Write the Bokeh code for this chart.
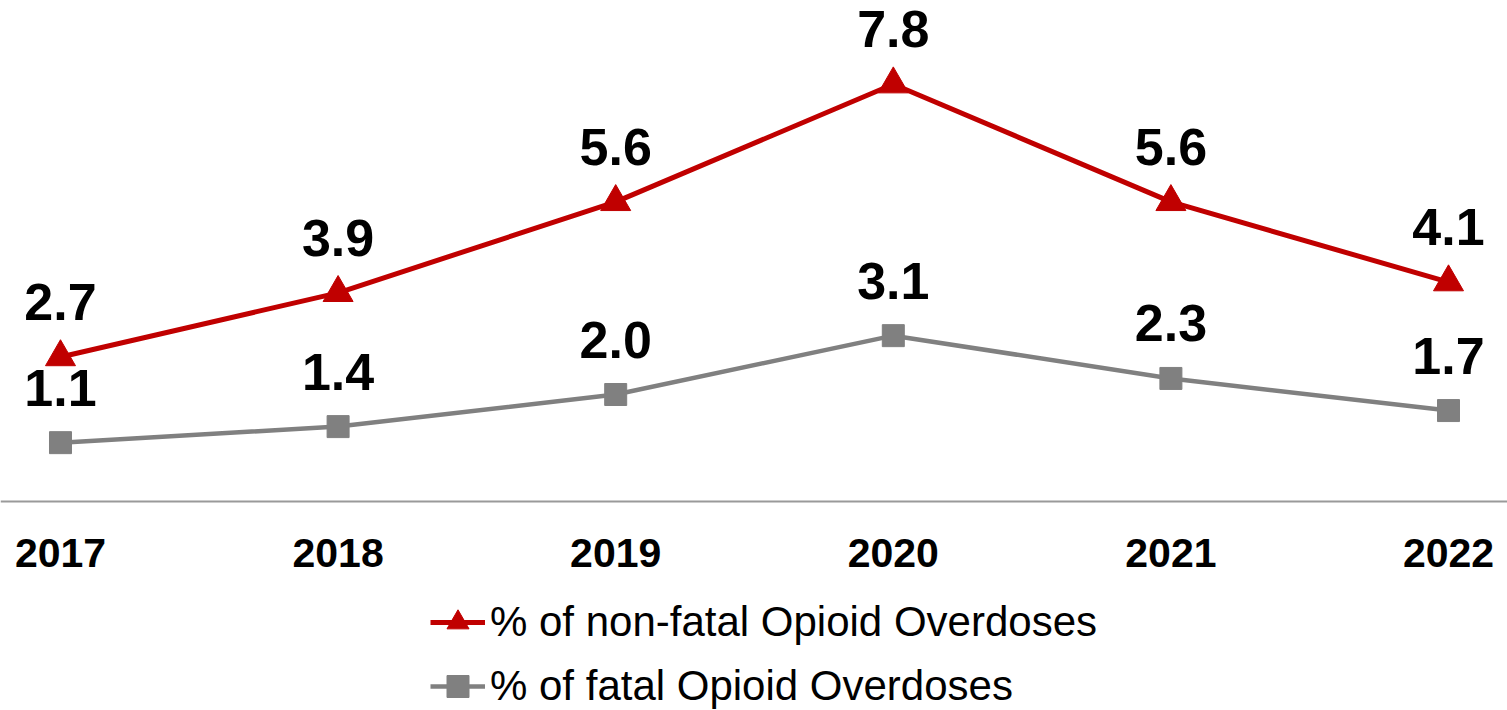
from bokeh.plotting import figure
from bokeh.models import Range1d, FixedTicker, Legend, LegendItem, ColumnDataSource, BasicTickFormatter
from bokeh.core.properties import value
from bokeh.embed import file_html
from bokeh.resources import INLINE

years = [2017, 2018, 2019, 2020, 2021, 2022]
nonfatal = [2.7, 3.9, 5.6, 7.8, 5.6, 4.1]
fatal = [1.1, 1.4, 2.0, 3.1, 2.3, 1.7]
series_names = ["% of non-fatal Opioid Overdoses", "% of fatal Opioid Overdoses"]

RED = "#C00000"
GREY = "#808080"
FONT = "Liberation Sans"

p = figure(width=1507, height=710, output_backend="svg", toolbar_location=None,
           x_range=Range1d(2016.7839, 2022.2125), y_range=Range1d(-3.9065, 9.3645),
           min_border_left=0, min_border_right=0, min_border_top=0, min_border_bottom=0)
p.outline_line_color = None
p.xgrid.visible = False
p.ygrid.visible = False
p.yaxis.visible = False

ax = p.xaxis[0]
ax.fixed_location = 0
ax.ticker = FixedTicker(ticks=years)
ax.formatter = BasicTickFormatter(use_scientific=False)
ax.axis_line_color = "#9A9A9A"
ax.axis_line_width = 2
ax.major_tick_line_color = None
ax.minor_tick_line_color = None
ax.major_tick_out = 0
ax.major_tick_in = 0
ax.minor_tick_out = 0
ax.major_label_standoff = 37
ax.major_label_text_font = FONT
ax.major_label_text_font_style = "bold"
ax.major_label_text_font_size = "41px"
ax.major_label_text_color = "black"

src_nf = ColumnDataSource(dict(x=years, y=nonfatal, t=["%.1f" % v for v in nonfatal]))
src_f = ColumnDataSource(dict(x=years, y=fatal, t=["%.1f" % v for v in fatal]))

l1 = p.line("x", "y", source=src_nf, line_color=RED, line_width=5)
m1 = p.scatter("x", "y", source=src_nf, marker="triangle", size=30, fill_color=RED, line_color=RED)
l2 = p.line("x", "y", source=src_f, line_color=GREY, line_width=4.5)
m2 = p.scatter("x", "y", source=src_f, marker="square", size=22, fill_color=GREY, line_color=GREY)

for src in (src_nf, src_f):
    p.text("x", "y", text="t", source=src, text_font=value(FONT), text_font_style="bold",
           text_font_size="52px", text_align="center", text_baseline="alphabetic",
           y_offset=-55, text_color="black")

legend = Legend(items=[LegendItem(label=series_names[0], renderers=[l1, m1]),
                       LegendItem(label=series_names[1], renderers=[l2, m2])],
                orientation="vertical", location=(430, -5),
                label_text_font=FONT, label_text_font_size="42px", label_text_color="black",
                glyph_width=55, glyph_height=58, label_height=58, spacing=6,
                label_standoff=5, padding=0, margin=0,
                border_line_color=None, background_fill_alpha=0)
p.add_layout(legend, "center")

open("out.html", "w").write(file_html(p, INLINE))
